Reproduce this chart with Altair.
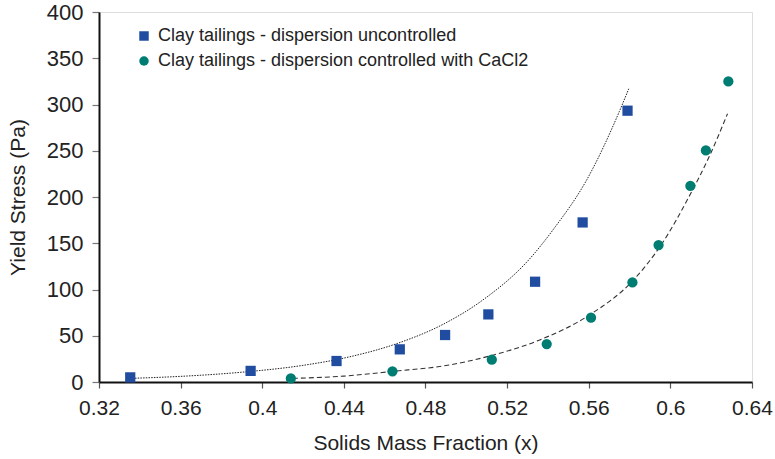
import altair as alt
import pandas as pd

unc_label = "Clay tailings - dispersion uncontrolled"
ctl_label = "Clay tailings - dispersion controlled with CaCl2"

unc_x = [0.3353, 0.3943, 0.4364, 0.4674, 0.4896, 0.5108, 0.5337, 0.5570, 0.5790]
unc_y = [5.0, 12.0, 22.7, 35.3, 50.8, 73.1, 108.4, 172.5, 293.3]
ctl_x = [0.4140, 0.4638, 0.5125, 0.5394, 0.5611, 0.5814, 0.5942, 0.6098, 0.6174, 0.6284]
ctl_y = [3.9, 11.5, 24.1, 41.0, 69.5, 107.7, 148.1, 211.9, 250.4, 325.0]

# Trend curves
unc_fit_x = [0.335, 0.360, 0.390, 0.420, 0.443, 0.467, 0.489, 0.508, 0.531, 0.543, 0.559, 0.575, 0.5796]
unc_fit_y = [3.9, 6.1, 10.6, 18.0, 27.3, 42.3, 62.8, 88.5, 133.0, 166.0, 218.5, 292.5, 317.0]
ctl_fit_x = [0.415, 0.440, 0.464, 0.490, 0.513, 0.536, 0.560, 0.582, 0.596, 0.610, 0.619, 0.628]
ctl_fit_y = [3.9, 6.4, 11.5, 17.8, 29.0, 45.5, 72.0, 110.5, 150.0, 204.0, 243.5, 290.0]

x_ticks = [0.32, 0.36, 0.40, 0.44, 0.48, 0.52, 0.56, 0.60, 0.64]
y_ticks = [0, 50, 100, 150, 200, 250, 300, 350, 400]

pts = pd.DataFrame(
    {"series": [unc_label] * len(unc_x) + [ctl_label] * len(ctl_x),
     "x": unc_x + ctl_x, "y": unc_y + ctl_y}
)
fit_unc = pd.DataFrame({"x": unc_fit_x, "y": unc_fit_y})
fit_ctl = pd.DataFrame({"x": ctl_fit_x, "y": ctl_fit_y})

FONT = "Liberation Sans"

x_scale = alt.Scale(domain=[0.32, 0.64], nice=False, zero=False)
y_scale = alt.Scale(domain=[0, 400], nice=False)

x_axis = alt.Axis(
    values=x_ticks, format=".2~f", title="Solids Mass Fraction (x)",
    labelFontSize=21, titleFontSize=21, labelPadding=9, titlePadding=14,
    labelFlush=False, labelOverlap=False,
    grid=False, tickSize=6, domainColor="#111111", domainWidth=2,
    tickColor="#555555", tickWidth=1.2, labelColor="#222222", titleColor="#222222",
    titleFontWeight="normal", labelFont=FONT, titleFont=FONT,
)
y_axis = alt.Axis(
    values=y_ticks, title="Yield Stress (Pa)",
    labelFontSize=22, titleFontSize=21, labelPadding=9, titlePadding=18,
    labelFlush=False, labelOverlap=False,
    grid=False, tickSize=7, domainColor="#111111", domainWidth=2,
    tickColor="#777777", tickWidth=1.2, labelColor="#222222", titleColor="#222222",
    titleFontWeight="normal", labelFont=FONT, titleFont=FONT,
)

line_unc = alt.Chart(fit_unc).mark_line(
    color="#222222", strokeWidth=1, strokeDash=[1.5, 1.2], interpolate="monotone"
).encode(
    x=alt.X("x:Q", scale=x_scale, axis=x_axis),
    y=alt.Y("y:Q", scale=y_scale, axis=y_axis),
)
line_ctl = alt.Chart(fit_ctl).mark_line(
    color="#333333", strokeWidth=1.1, strokeDash=[5, 3], interpolate="monotone"
).encode(
    x=alt.X("x:Q", scale=x_scale),
    y=alt.Y("y:Q", scale=y_scale),
)

points = alt.Chart(pts).mark_point(filled=True, opacity=1, size=105, strokeWidth=0).encode(
    x=alt.X("x:Q", scale=x_scale),
    y=alt.Y("y:Q", scale=y_scale),
    color=alt.Color(
        "series:N",
        scale=alt.Scale(domain=[unc_label, ctl_label], range=["#214DA1", "#007D73"]),
        legend=alt.Legend(
            orient="none", legendX=36, legendY=15, title=None, padding=0,
            labelFontSize=18, labelFont=FONT, labelColor="#222222", labelLimit=0,
            symbolSize=90, rowPadding=7, labelOffset=5, symbolStrokeWidth=0,
            symbolOpacity=1,
        ),
    ),
    shape=alt.Shape(
        "series:N",
        scale=alt.Scale(domain=[unc_label, ctl_label], range=["square", "circle"]),
        legend=None,
    ),
)

chart = alt.layer(line_unc, line_ctl, points).properties(
    width=653, height=370,
    autosize=alt.AutoSizeParams(type="none"),
    padding={"left": 99, "top": 12, "right": 23, "bottom": 77},
).configure_view(
    stroke="#888888", strokeWidth=1.5
).configure(background="white")

chart.save("out.html", embed_options={"renderer": "svg", "actions": False})
